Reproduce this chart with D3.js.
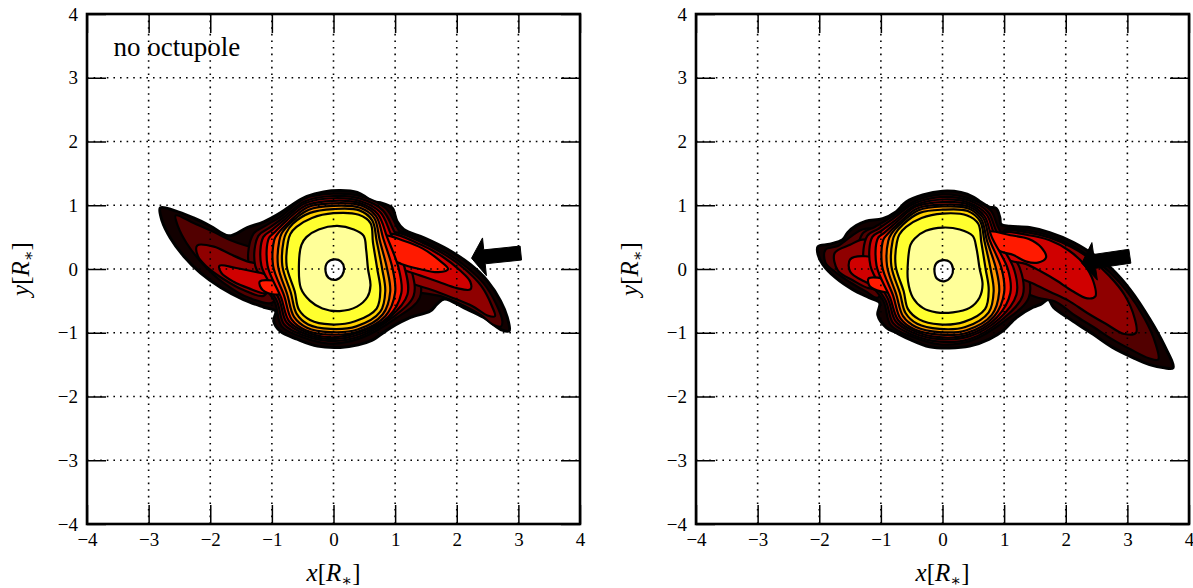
<!DOCTYPE html>
<html>
<head>
<meta charset="utf-8">
<script src="https://cdn.jsdelivr.net/npm/d3@7"></script>
<style>
  body { margin: 0; background: #fff; }
  svg text { font-family: "Liberation Serif", "DejaVu Serif", serif; fill: #000; }
</style>
</head>
<body>
<svg id="chart" width="1193" height="588"></svg>
<script>
// Filled-contour levels, lowest (outer envelope) to highest (core)
const levelColors = ["#120000", "#520000", "#8f0000", "#d00000", "#ff1a00",
                     "#ff5c00", "#ff9a00", "#ffd000", "#ffff2e", "#ffff99", "#ffffff"];
const tickValues = [-4, -3, -2, -1, 0, 1, 2, 3, 4];
const titleText = "no octupole";

// ---------- panel without octupole: contour rings in units of R* ----------
const leftL0 = [[[-2.81,0.96],[-2.59,0.92],[-2.27,0.80],[-2.00,0.675],[-1.70,0.52],[-1.40,0.65],[-1.13,0.74],[-0.86,0.88],[-0.62,1.04],[-0.43,1.14],[-0.16,1.21],[0.11,1.23],[0.385,1.20],[0.52,1.13],[0.62,1.06],[0.76,1.04],[0.95,0.96],[1.03,0.75],[1.14,0.62],[1.47,0.49],[1.85,0.31],[2.22,0.07],[2.50,-0.19],[2.71,-0.50],[2.82,-0.76],[2.85,-0.97],[2.74,-0.96],[2.44,-0.76],[2.12,-0.61],[1.80,-0.47],[1.68,-0.55],[1.57,-0.66],[1.25,-0.76],[0.93,-0.92],[0.62,-1.12],[0.40,-1.19],[0.11,-1.23],[-0.26,-1.21],[-0.59,-1.10],[-0.86,-0.98],[-0.97,-0.82],[-0.94,-0.66],[-1.13,-0.60],[-1.46,-0.48],[-1.83,-0.29],[-2.16,-0.06],[-2.43,0.20],[-2.65,0.49],[-2.78,0.75]]];
const leftL1 = [
  [[-2.56,0.84],[-2.27,0.72],[-1.94,0.58],[-1.67,0.45],[-1.40,0.36],[-1.10,0.30],[-0.98,0.0],[-0.98,-0.52],[-1.35,-0.46],[-1.78,-0.22],[-2.12,0.08],[-2.38,0.40],[-2.52,0.66]],
  [[1.0,0.58],[1.45,0.44],[1.82,0.26],[2.17,0.02],[2.44,-0.23],[2.63,-0.53],[2.74,-0.82],[2.72,-0.90],[2.60,-0.88],[2.40,-0.73],[2.10,-0.57],[1.75,-0.43],[1.40,-0.37],[1.10,-0.32],[0.95,-0.10]],
  [[-1.37,0.05],[-1.30,0.55],[-1.10,0.68],[-0.84,0.83],[-0.48,1.10],[0.0,1.18],[0.45,1.14],[0.85,0.95],[1.04,0.64],[1.36,0.0],[1.40,-0.45],[1.0,-0.78],[0.45,-1.08],[-0.05,-1.17],[-0.50,-1.07],[-0.84,-0.90],[-0.96,-0.50]]
];
const leftL2 = [
  [[-2.21,0.37],[-1.94,0.35],[-1.67,0.23],[-1.40,0.12],[-1.13,0.04],[-1.05,-0.20],[-1.13,-0.42],[-1.46,-0.33],[-1.78,-0.16],[-2.05,0.03],[-2.20,0.20]],
  [[0.95,0.56],[1.45,0.41],[1.80,0.23],[2.13,0.0],[2.40,-0.27],[2.57,-0.58],[2.62,-0.74],[2.50,-0.73],[2.25,-0.58],[1.95,-0.46],[1.60,-0.33],[1.30,-0.24],[1.0,-0.12]],
  [[-1.27,0.05],[-1.22,0.52],[-1.05,0.64],[-0.82,0.80],[-0.47,1.06],[0.0,1.145],[0.45,1.10],[0.80,0.92],[0.98,0.60],[1.26,0.0],[1.30,-0.42],[0.96,-0.76],[0.44,-1.05],[-0.05,-1.13],[-0.49,-1.04],[-0.80,-0.87],[-0.92,-0.50]]
];
const leftL3 = [
  [[-1.85,0.05],[-1.60,0.02],[-1.30,-0.04],[-1.08,-0.10],[-1.0,-0.28],[-1.10,-0.38],[-1.38,-0.30],[-1.62,-0.20],[-1.82,-0.06]],
  [[0.90,0.54],[1.42,0.38],[1.76,0.20],[2.05,-0.02],[2.22,-0.20],[2.22,-0.32],[2.0,-0.30],[1.70,-0.20],[1.40,-0.10],[1.10,0.0],[0.90,0.10]],
  [[-1.17,0.05],[-1.14,0.50],[-1.0,0.61],[-0.79,0.78],[-0.46,1.03],[0.0,1.11],[0.45,1.06],[0.76,0.89],[0.93,0.55],[1.16,0.0],[1.20,-0.40],[0.92,-0.75],[0.43,-1.02],[-0.05,-1.10],[-0.48,-1.01],[-0.76,-0.84],[-0.88,-0.48]]
];
const leftL4 = [
  [[-1.20,-0.20],[-0.98,-0.18],[-0.78,-0.24],[-0.74,-0.36],[-0.95,-0.40],[-1.15,-0.33]],
  [[0.80,0.52],[1.15,0.44],[1.45,0.32],[1.70,0.15],[1.86,0.0],[1.70,-0.05],[1.40,0.0],[1.10,0.08],[0.88,0.20]],
  [[-1.07,0.05],[-1.05,0.48],[-0.95,0.58],[-0.76,0.76],[-0.44,1.0],[0.0,1.07],[0.44,1.03],[0.72,0.86],[0.87,0.50],[1.06,0.0],[1.10,-0.38],[0.88,-0.76],[0.42,-0.99],[-0.05,-1.07],[-0.47,-0.98],[-0.72,-0.82],[-0.85,-0.45]]
];
const leftL5 = [[[-0.98,0.05],[-0.96,0.46],[-0.90,0.56],[-0.73,0.73],[-0.42,0.97],[0.0,1.03],[0.44,1.0],[0.69,0.83],[0.81,0.47],[0.96,0.0],[1.0,-0.37],[0.84,-0.74],[0.40,-0.98],[-0.05,-1.03],[-0.45,-0.96],[-0.68,-0.79],[-0.80,-0.42]]];
const leftL6 = [[[-0.90,0.05],[-0.88,0.44],[-0.84,0.56],[-0.70,0.72],[-0.40,0.93],[0.0,0.99],[0.43,0.96],[0.66,0.80],[0.75,0.45],[0.87,0.0],[0.92,-0.36],[0.80,-0.71],[0.39,-0.95],[-0.05,-0.99],[-0.43,-0.92],[-0.64,-0.75],[-0.75,-0.40]]];
const leftL7 = [[[-0.83,0.05],[-0.81,0.44],[-0.77,0.56],[-0.66,0.71],[-0.38,0.88],[0.0,0.94],[0.42,0.92],[0.63,0.76],[0.70,0.44],[0.79,0.0],[0.84,-0.35],[0.76,-0.67],[0.37,-0.90],[-0.05,-0.94],[-0.41,-0.87],[-0.60,-0.70],[-0.69,-0.38]]];
const leftL8 = [[[-0.76,0.05],[-0.74,0.42],[-0.70,0.55],[-0.60,0.66],[-0.35,0.80],[0.0,0.875],[0.41,0.85],[0.60,0.72],[0.64,0.42],[0.71,0.0],[0.76,-0.33],[0.70,-0.62],[0.35,-0.82],[-0.05,-0.87],[-0.38,-0.80],[-0.56,-0.64],[-0.63,-0.35]]];
const leftL9 = [[[-0.56,0.10],[-0.52,0.38],[-0.44,0.50],[-0.24,0.62],[0.06,0.675],[0.33,0.62],[0.49,0.52],[0.53,0.30],[0.56,0.0],[0.60,-0.26],[0.55,-0.44],[0.38,-0.59],[0.10,-0.66],[-0.18,-0.62],[-0.38,-0.50],[-0.53,-0.30]]];
const leftL10 = [[[0.02,0.15],[0.12,0.12],[0.17,0.02],[0.14,-0.10],[0.04,-0.17],[-0.08,-0.14],[-0.13,-0.03],[-0.10,0.10]]];
const leftArrow = [[3.04, 0.25], [2.24, 0.17]];   // tail, tip

// ---------- panel with octupole ----------
const rightL0 = [[[-2.02,0.35],[-1.83,0.39],[-1.62,0.46],[-1.54,0.57],[-1.40,0.68],[-1.24,0.75],[-0.97,0.79],[-0.75,0.90],[-0.59,1.05],[-0.32,1.16],[0.0,1.22],[0.30,1.20],[0.50,1.13],[0.62,1.05],[0.76,0.97],[0.87,0.95],[0.93,0.81],[0.95,0.70],[1.09,0.67],[1.41,0.65],[1.74,0.57],[2.12,0.42],[2.49,0.20],[2.75,0.0],[3.05,-0.33],[3.36,-0.78],[3.60,-1.20],[3.74,-1.55],[3.60,-1.55],[3.36,-1.50],[3.09,-1.39],[2.76,-1.23],[2.44,-1.02],[2.12,-0.82],[1.80,-0.60],[1.72,-0.48],[1.60,-0.55],[1.47,-0.60],[1.20,-0.76],[0.98,-0.97],[0.76,-1.10],[0.44,-1.21],[0.11,-1.24],[-0.21,-1.22],[-0.54,-1.10],[-0.75,-1.0],[-0.91,-0.92],[-1.05,-0.72],[-1.02,-0.53],[-1.19,-0.45],[-1.46,-0.32],[-1.73,-0.14],[-1.94,0.07],[-2.02,0.23]]];
const rightL1 = [
  [[-1.90,0.30],[-1.70,0.36],[-1.50,0.50],[-1.30,0.62],[-1.10,0.62],[-0.95,0.35],[-0.95,-0.20],[-1.05,-0.45],[-1.25,-0.35],[-1.48,-0.22],[-1.72,-0.06],[-1.90,0.10]],
  [[1.0,0.60],[1.40,0.60],[1.74,0.52],[2.10,0.37],[2.45,0.15],[2.72,-0.06],[3.0,-0.36],[3.28,-0.78],[3.45,-1.15],[3.50,-1.42],[3.35,-1.40],[3.05,-1.26],[2.75,-1.10],[2.45,-0.91],[2.15,-0.73],[1.85,-0.52],[1.55,-0.45],[1.25,-0.33],[1.0,-0.10]],
  [[-1.37,0.05],[-1.30,0.55],[-1.10,0.66],[-0.82,0.82],[-0.46,1.06],[0.0,1.17],[0.45,1.10],[0.78,0.92],[0.92,0.62],[1.36,0.0],[1.40,-0.45],[1.0,-0.82],[0.45,-1.13],[-0.05,-1.18],[-0.50,-1.06],[-0.84,-0.88],[-0.96,-0.50]]
];
const rightL2 = [
  [[-1.75,0.25],[-1.50,0.38],[-1.30,0.46],[-1.05,0.42],[-0.95,0.10],[-0.98,-0.30],[-1.20,-0.30],[-1.45,-0.18],[-1.70,-0.02]],
  [[1.0,0.58],[1.40,0.57],[1.74,0.49],[2.10,0.34],[2.45,0.12],[2.70,-0.10],[2.95,-0.40],[3.12,-0.78],[3.14,-1.0],[2.95,-1.02],[2.65,-0.86],[2.35,-0.69],[2.05,-0.50],[1.75,-0.36],[1.45,-0.22],[1.15,-0.10],[0.95,0.05]],
  [[-1.27,0.05],[-1.22,0.52],[-1.04,0.63],[-0.80,0.79],[-0.45,1.03],[0.0,1.13],[0.44,1.07],[0.74,0.89],[0.88,0.58],[1.26,0.0],[1.30,-0.42],[0.96,-0.80],[0.44,-1.10],[-0.05,-1.14],[-0.49,-1.03],[-0.80,-0.85],[-0.92,-0.50]]
];
const rightL3 = [
  [[-1.50,0.15],[-1.25,0.20],[-1.0,0.12],[-0.90,-0.15],[-1.05,-0.26],[-1.30,-0.18],[-1.50,-0.04]],
  [[0.95,0.56],[1.40,0.53],[1.74,0.45],[2.05,0.29],[2.30,0.07],[2.45,-0.20],[2.48,-0.43],[2.35,-0.46],[2.10,-0.34],[1.85,-0.18],[1.60,-0.04],[1.35,0.08],[1.05,0.16]],
  [[-1.17,0.05],[-1.14,0.50],[-0.99,0.60],[-0.77,0.76],[-0.44,1.0],[0.0,1.09],[0.43,1.04],[0.71,0.86],[0.84,0.55],[1.16,0.0],[1.20,-0.40],[0.92,-0.78],[0.43,-1.06],[-0.05,-1.10],[-0.48,-1.0],[-0.76,-0.82],[-0.88,-0.48]]
];
const rightL4 = [
  [[-1.20,-0.15],[-0.95,-0.15],[-0.75,-0.22],[-0.78,-0.35],[-1.0,-0.35],[-1.18,-0.27]],
  [[0.75,0.58],[1.10,0.53],[1.40,0.47],[1.60,0.34],[1.68,0.18],[1.55,0.10],[1.35,0.12],[1.15,0.22],[0.90,0.30]],
  [[-1.07,0.05],[-1.05,0.48],[-0.94,0.57],[-0.74,0.74],[-0.43,0.98],[0.0,1.05],[0.43,1.01],[0.68,0.83],[0.80,0.50],[1.06,0.0],[1.10,-0.38],[0.88,-0.76],[0.42,-1.03],[-0.05,-1.07],[-0.47,-0.97],[-0.72,-0.80],[-0.85,-0.45]]
];
const rightL5 = [[[-0.98,0.05],[-0.96,0.46],[-0.89,0.55],[-0.71,0.72],[-0.41,0.95],[0.0,1.01],[0.42,0.98],[0.66,0.80],[0.76,0.47],[0.96,0.0],[1.0,-0.37],[0.84,-0.74],[0.40,-1.0],[-0.05,-1.03],[-0.45,-0.95],[-0.68,-0.78],[-0.80,-0.42]]];
const rightL6 = [[[-0.90,0.05],[-0.88,0.44],[-0.83,0.55],[-0.68,0.71],[-0.39,0.92],[0.0,0.98],[0.42,0.95],[0.63,0.78],[0.72,0.45],[0.87,0.0],[0.92,-0.36],[0.80,-0.72],[0.39,-0.96],[-0.05,-0.99],[-0.43,-0.91],[-0.64,-0.74],[-0.75,-0.40]]];
const rightL7 = [[[-0.83,0.05],[-0.81,0.44],[-0.77,0.55],[-0.64,0.70],[-0.37,0.88],[0.0,0.93],[0.41,0.91],[0.61,0.75],[0.68,0.44],[0.78,0.0],[0.83,-0.35],[0.75,-0.68],[0.37,-0.91],[-0.05,-0.94],[-0.41,-0.86],[-0.60,-0.69],[-0.69,-0.38]]];
const rightL8 = [[[-0.76,0.05],[-0.74,0.42],[-0.70,0.54],[-0.59,0.66],[-0.34,0.80],[0.0,0.87],[0.40,0.84],[0.58,0.71],[0.63,0.42],[0.70,0.0],[0.75,-0.33],[0.69,-0.63],[0.35,-0.83],[-0.05,-0.87],[-0.38,-0.79],[-0.56,-0.63],[-0.63,-0.35]]];
const rightL9 = [[[-0.56,0.12],[-0.52,0.38],[-0.45,0.48],[-0.27,0.60],[0.01,0.65],[0.28,0.62],[0.49,0.52],[0.55,0.33],[0.60,0.02],[0.65,-0.24],[0.60,-0.45],[0.44,-0.61],[0.17,-0.68],[-0.10,-0.68],[-0.32,-0.61],[-0.48,-0.45],[-0.56,-0.19]]];
const rightL10 = [[[0.02,0.14],[0.12,0.11],[0.17,0.0],[0.14,-0.12],[0.04,-0.19],[-0.08,-0.16],[-0.13,-0.04],[-0.10,0.09]]];
const rightArrow = [[3.04, 0.20], [2.26, 0.09]];

const leftLevels = [leftL0, leftL1, leftL2, leftL3, leftL4, leftL5, leftL6, leftL7, leftL8, leftL9, leftL10];
const rightLevels = [rightL0, rightL1, rightL2, rightL3, rightL4, rightL5, rightL6, rightL7, rightL8, rightL9, rightL10];

const svg = d3.select("#chart");
const plotW = 493, plotTop = 14, plotBottom = 524;

function drawPanel(x0, levels, arrow, title, ylabelX) {
  const x = d3.scaleLinear().domain([-4, 4]).range([x0, x0 + plotW]);
  const y = d3.scaleLinear().domain([-4, 4]).range([plotBottom, plotTop]);
  const g = svg.append("g");

  // filled contour bands, each outlined in black
  const ring = d3.line().x(d => x(d[0])).y(d => y(d[1]))
    .curve(d3.curveCatmullRomClosed.alpha(0.5));
  levels.forEach((rings, i) => {
    rings.forEach(r => {
      g.append("path").attr("d", ring(r))
        .attr("fill", levelColors[i]).attr("stroke", "#000")
        .attr("stroke-width", i === 0 ? 3 : 2.2).attr("stroke-linejoin", "round");
    });
  });

  // dotted grid
  const inner = tickValues.slice(1, -1);
  g.selectAll(null).data(inner).enter().append("line")
    .attr("x1", d => x(d)).attr("x2", d => x(d)).attr("y1", plotTop).attr("y2", plotBottom)
    .attr("stroke", "#000").attr("stroke-width", 1.6).attr("stroke-dasharray", "1.6,5");
  g.selectAll(null).data(inner).enter().append("line")
    .attr("y1", d => y(d)).attr("y2", d => y(d)).attr("x1", x0).attr("x2", x0 + plotW)
    .attr("stroke", "#000").attr("stroke-width", 1.6).attr("stroke-dasharray", "1.6,5");

  // annotation arrow (tail -> tip)
  const [tx, ty] = [x(arrow[0][0]), y(arrow[0][1])];
  const [hx, hy] = [x(arrow[1][0]), y(arrow[1][1])];
  const L = Math.hypot(hx - tx, hy - ty), ux = (hx - tx) / L, uy = (hy - ty) / L;
  const nx = -uy, ny = ux, headLen = 13, tailW = 7, headW = 19;
  const bx = hx - ux * headLen, by = hy - uy * headLen;
  const pts = [[tx + nx * tailW, ty + ny * tailW], [bx + nx * tailW, by + ny * tailW],
               [bx + nx * headW, by + ny * headW], [hx, hy],
               [bx - nx * headW, by - ny * headW], [bx - nx * tailW, by - ny * tailW],
               [tx - nx * tailW, ty - ny * tailW]];
  g.append("polygon").attr("points", pts.map(p => p.join(",")).join(" "))
    .attr("fill", "#000").attr("stroke", "#000").attr("stroke-width", 1);

  // ticks on all four sides, pointing inward
  const tickLen = 19;
  const fmt = d3.format("d");
  const axB = g.append("g").attr("transform", `translate(0,${plotBottom})`)
    .call(d3.axisBottom(x).tickValues(tickValues).tickSize(-tickLen).tickPadding(9).tickFormat(fmt));
  const axL = g.append("g").attr("transform", `translate(${x0},0)`)
    .call(d3.axisLeft(y).tickValues(tickValues).tickSize(-tickLen).tickPadding(9).tickFormat(fmt));
  const axT = g.append("g").attr("transform", `translate(0,${plotTop})`)
    .call(d3.axisTop(x).tickValues(tickValues).tickSize(-tickLen).tickFormat(""));
  const axR = g.append("g").attr("transform", `translate(${x0 + plotW},0)`)
    .call(d3.axisRight(y).tickValues(tickValues).tickSize(-tickLen).tickFormat(""));
  [axB, axL, axT, axR].forEach(a => {
    a.select(".domain").remove();
    a.selectAll(".tick line").attr("stroke", "#000").attr("stroke-width", 1.5);
    a.selectAll("text").attr("font-family", "Liberation Serif, DejaVu Serif, serif")
      .attr("font-size", 19).attr("fill", "#000");
  });

  // frame
  g.append("rect").attr("x", x0).attr("y", plotTop).attr("width", plotW).attr("height", plotBottom - plotTop)
    .attr("fill", "none").attr("stroke", "#000").attr("stroke-width", 2.6);

  // axis labels
  const xl = g.append("text").attr("x", x0 + plotW / 2).attr("y", 581)
    .attr("text-anchor", "middle").attr("font-size", 25);
  xl.append("tspan").attr("font-style", "italic").text("x");
  xl.append("tspan").text("[");
  xl.append("tspan").attr("font-style", "italic").text("R");
  xl.append("tspan").attr("font-size", 16).attr("dy", 5).text("\u2217");
  xl.append("tspan").attr("dy", -5).text("]");

  const yl = g.append("text").attr("transform", `translate(${ylabelX},${(plotTop + plotBottom) / 2}) rotate(-90)`)
    .attr("text-anchor", "middle").attr("font-size", 25);
  yl.append("tspan").attr("font-style", "italic").text("y");
  yl.append("tspan").text("[");
  yl.append("tspan").attr("font-style", "italic").text("R");
  yl.append("tspan").attr("font-size", 16).attr("dy", 5).text("\u2217");
  yl.append("tspan").attr("dy", -5).text("]");

  if (title) {
    g.append("text").attr("x", x(-3.57)).attr("y", y(3.34)).attr("font-size", 27).text(title);
  }
}

drawPanel(87, leftLevels, leftArrow, titleText, 29);
drawPanel(696, rightLevels, rightArrow, null, 638);
</script>
</body>
</html>
